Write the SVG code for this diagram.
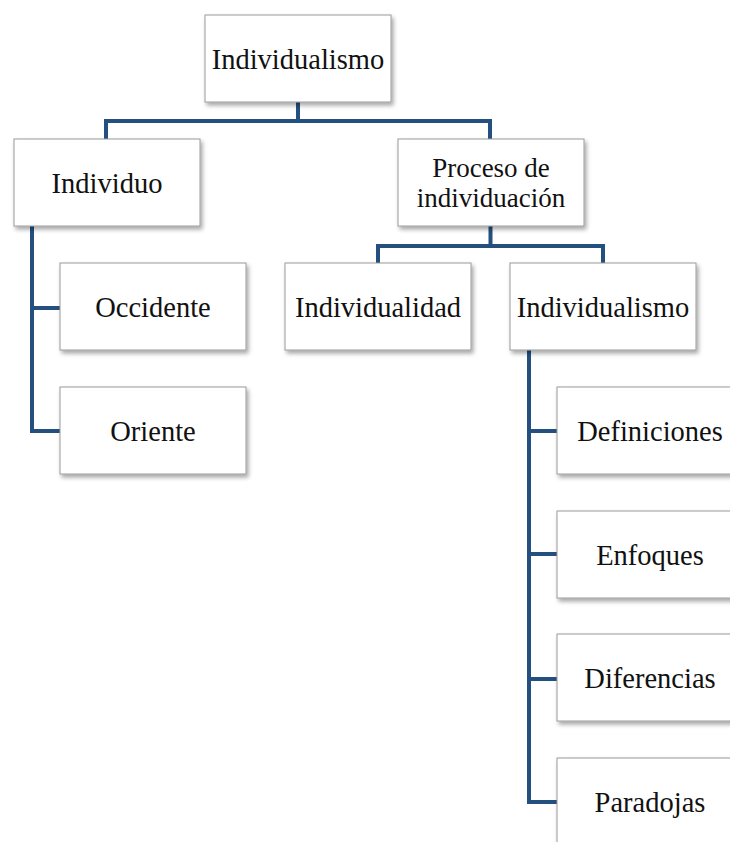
<svg xmlns="http://www.w3.org/2000/svg" width="730" height="842" viewBox="0 0 730 842">
<defs>
<filter id="sh" x="-10%" y="-10%" width="130%" height="140%">
<feDropShadow dx="2" dy="3" stdDeviation="2" flood-color="#000" flood-opacity="0.35"/>
</filter>
<style>
.box{fill:#fff;stroke:#9a9a9a;stroke-width:1;filter:url(#sh)}
.t{font-family:"Liberation Serif","Times New Roman",serif;font-size:28.5px;fill:#111;text-anchor:middle}
.t2{font-size:27px}
.c{fill:none;stroke:#23507f;stroke-width:4;stroke-linejoin:miter;stroke-linecap:butt}
</style>
</defs>
<rect width="730" height="842" fill="#fff"/>
<g id="connectors">
<path class="c" d="M298,102 V121 M106,139 V121 H490 V139"/>
<path class="c" d="M32,226 V431 H60 M32,308 H60"/>
<path class="c" d="M490.5,226 V246 M378,263 V246 H603 V263"/>
<path class="c" d="M529,350 V802 H557 M529,431 H557 M529,554 H557 M529,679 H557"/>
</g>
<g id="n-root"><rect class="box" x="205" y="15" width="186" height="87"/><text class="t" x="298" y="69">Individualismo</text></g>
<g id="n-individuo"><rect class="box" x="14" y="139" width="186" height="87"/><text class="t" x="107" y="193">Individuo</text></g>
<g id="n-proceso"><rect class="box" x="398" y="139" width="186" height="87"/><text class="t t2" x="491" y="176.5">Proceso de</text><text class="t t2" x="491" y="206.5">individuación</text></g>
<g id="n-occidente"><rect class="box" x="60" y="263" width="186" height="87"/><text class="t" x="153" y="317">Occidente</text></g>
<g id="n-oriente"><rect class="box" x="60" y="387" width="186" height="87"/><text class="t" x="153" y="441">Oriente</text></g>
<g id="n-individualidad"><rect class="box" x="285" y="263" width="186" height="87"/><text class="t" x="378" y="317">Individualidad</text></g>
<g id="n-individualismo2"><rect class="box" x="510" y="263" width="186" height="87"/><text class="t" x="603" y="317">Individualismo</text></g>
<g id="n-definiciones"><rect class="box" x="557" y="387" width="186" height="87"/><text class="t" x="650" y="441">Definiciones</text></g>
<g id="n-enfoques"><rect class="box" x="557" y="511" width="186" height="87"/><text class="t" x="650" y="565">Enfoques</text></g>
<g id="n-diferencias"><rect class="box" x="557" y="634" width="186" height="87"/><text class="t" x="650" y="688">Diferencias</text></g>
<g id="n-paradojas"><rect class="box" x="557" y="758" width="186" height="87"/><text class="t" x="650" y="812">Paradojas</text></g>
</svg>
